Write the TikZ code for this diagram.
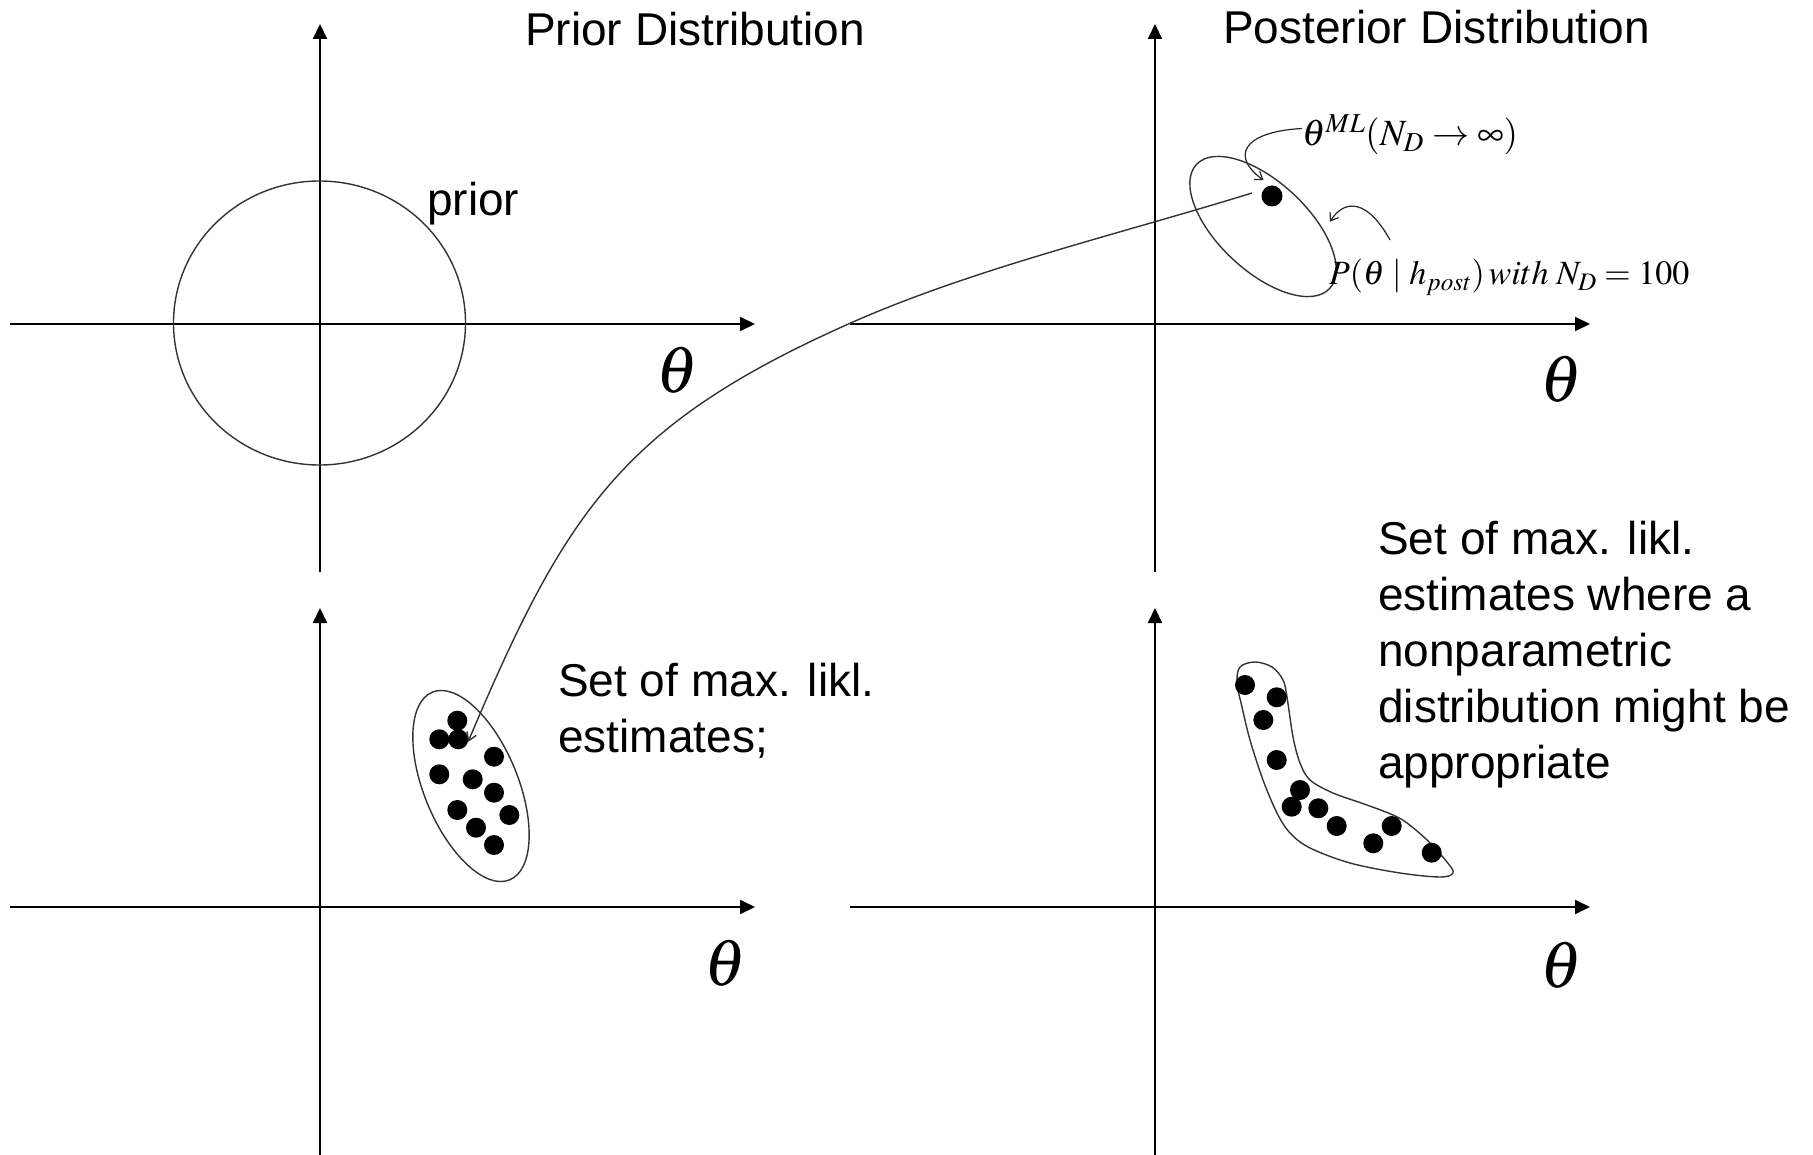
\documentclass[tikz,border=0pt]{standalone}
\usepackage{mathptmx}
\usepackage[no-math]{fontspec}
\setmainfont{Liberation Sans}
\usetikzlibrary{arrows.meta}
\begin{document}
\begin{tikzpicture}[x=1pt,y=-1pt,
  axis/.style={line width=2pt, -{Triangle[length=15pt,width=14pt]}},
  outline/.style={line width=1.4pt, draw=black!80},
  dot/.style={circle, fill=black, inner sep=0pt, minimum size=20pt},
  lbl/.style={font=\fontsize{46}{55.8}\selectfont, inner sep=0pt, anchor=base west, align=left},
  th/.style={font=\fontsize{66}{70}\selectfont, inner sep=0pt},
  note/.style={font=\fontsize{35}{40}\selectfont, inner sep=0pt, anchor=base west},
  thinarrow/.style={line width=1.2pt, draw=black!85, -{Straight Barb[length=7pt,width=10pt]}},
]
\useasboundingbox (0,0) rectangle (1813,1155);

% axes coordinates
\coordinate (tlL) at (10,324);   \coordinate (tlR) at (755,324);
\coordinate (tlB) at (320,572);  \coordinate (tlT) at (320,24);
\coordinate (trL) at (850,324);  \coordinate (trR) at (1590,324);
\coordinate (trB) at (1155,572); \coordinate (trT) at (1155,24);
\coordinate (blL) at (10,907);   \coordinate (blR) at (755,907);
\coordinate (blB) at (320,1155); \coordinate (blT) at (320,608);
\coordinate (brL) at (850,907);  \coordinate (brR) at (1590,907);
\coordinate (brB) at (1155,1155);\coordinate (brT) at (1155,608);

\draw[axis] (tlL) -- (tlR);
\draw[axis] (tlB) -- (tlT);
\draw[axis] (trL) -- (trR);
\draw[axis] (trB) -- (trT);
\draw[axis] (blL) -- (blR);
\draw[axis] (blB) -- (blT);
\draw[axis] (brL) -- (brR);
\draw[axis] (brB) -- (brT);

% theta labels
\node[th] (thTL) at (677,370) {$\theta$};
\node[th] (thTR) at (1561,379) {$\theta$};
\node[th] (thBL) at (725,963) {$\theta$};
\node[th] (thBR) at (1561,965) {$\theta$};

% titles and texts (base = baseline of last line)
\node[lbl] (tPrior) at (525,46) {Prior Distribution};
\node[lbl] (tPost) at (1223,44) {Posterior Distribution};
\node[lbl] (priorLbl) at (427,216) {prior};
\node[lbl] (setA) at (558,752) {Set of max. likl.\\estimates;};
\node[lbl] (setB) at (1378,778) {Set of max. likl.\\estimates where a\\nonparametric\\distribution might be\\appropriate};

% prior circle
\draw[outline] (319.5,323) ellipse [x radius=146, y radius=142];

% posterior ellipse and ML point
\draw[outline, rotate around={-43:(1263,226.5)}] (1263,226.5) ellipse [x radius=91, y radius=44.5];
\node[dot, minimum size=21pt] (ml) at (1272,196) {};

% lower-left cluster
\draw[outline, rotate around={-67.6:(471,786)}] (471,786) ellipse [x radius=101.5, y radius=47];
\node[dot] (d1) at (457.3,720.7) {};
\node[dot] (d2) at (439.3,739.3) {};
\node[dot] (d3) at (458.3,739.3) {};
\node[dot] (d4) at (494,756.7) {};
\node[dot] (d5) at (439.3,774.3) {};
\node[dot] (d6) at (472.7,779.3) {};
\node[dot] (d7) at (494,792.7) {};
\node[dot] (d8) at (457.3,810) {};
\node[dot] (d9) at (509.3,815) {};
\node[dot] (d10) at (476,827.7) {};
\node[dot] (d11) at (494,845) {};

% lower-right boomerang
\draw[outline] plot[smooth cycle, tension=0.55] coordinates {
 (1240,667) (1255,662) (1272,667) (1283,680) (1287,697) (1293,737) (1300,763)
 (1310,780) (1333,793) (1367,805) (1393,815) (1407,823) (1427,840) (1447,862)
 (1453,873) (1440,877) (1400,873) (1350,863) (1310,848) (1290,833) (1277,813)
 (1263,780) (1250,740) (1242,707) (1237,683)};
\node[dot] (e1) at (1245,685) {};
\node[dot] (e2) at (1276.7,697.3) {};
\node[dot] (e3) at (1263.3,720) {};
\node[dot] (e4) at (1276.7,760) {};
\node[dot] (e5) at (1300,790) {};
\node[dot] (e6) at (1291.7,806.7) {};
\node[dot] (e7) at (1318.3,808.3) {};
\node[dot] (e8) at (1336.7,826) {};
\node[dot] (e9) at (1391.7,826) {};
\node[dot] (e10) at (1373.3,843.3) {};
\node[dot] (e11) at (1431.7,852.7) {};

% main connector
\coordinate (cS) at (1252,193);
\coordinate (cM) at (850,323.3);
\coordinate (cE) at (468,742);
\draw[outline, -{Straight Barb[length=8pt,width=10pt]}] (cS) .. controls (1118,234.5) and (972.5,268.9) .. (cM)
  .. controls (621.5,424.8) and (565.5,512) .. (cE);

% annotations
\node[note, font=\fontsize{37}{40}\selectfont] (mlLbl) at (1302,146) {$\theta^{ML}(N_D \to \infty)$};
\node[note, font=\fontsize{34}{40}\selectfont] (postLbl) at (1329,285) {$P(\theta\mid h_{post})\,with\;N_D = 100$};
\coordinate (a1s) at (1302,128.5); \coordinate (a1e) at (1263.5,180);
\draw[thinarrow] (a1s) .. controls (1240,132) and (1232,158) .. (a1e);
\coordinate (a2s) at (1390,240); \coordinate (a2e) at (1330,221.7);
\draw[thinarrow] (a2s) .. controls (1368,200) and (1345,198) .. (a2e);
\end{tikzpicture}
\end{document}
